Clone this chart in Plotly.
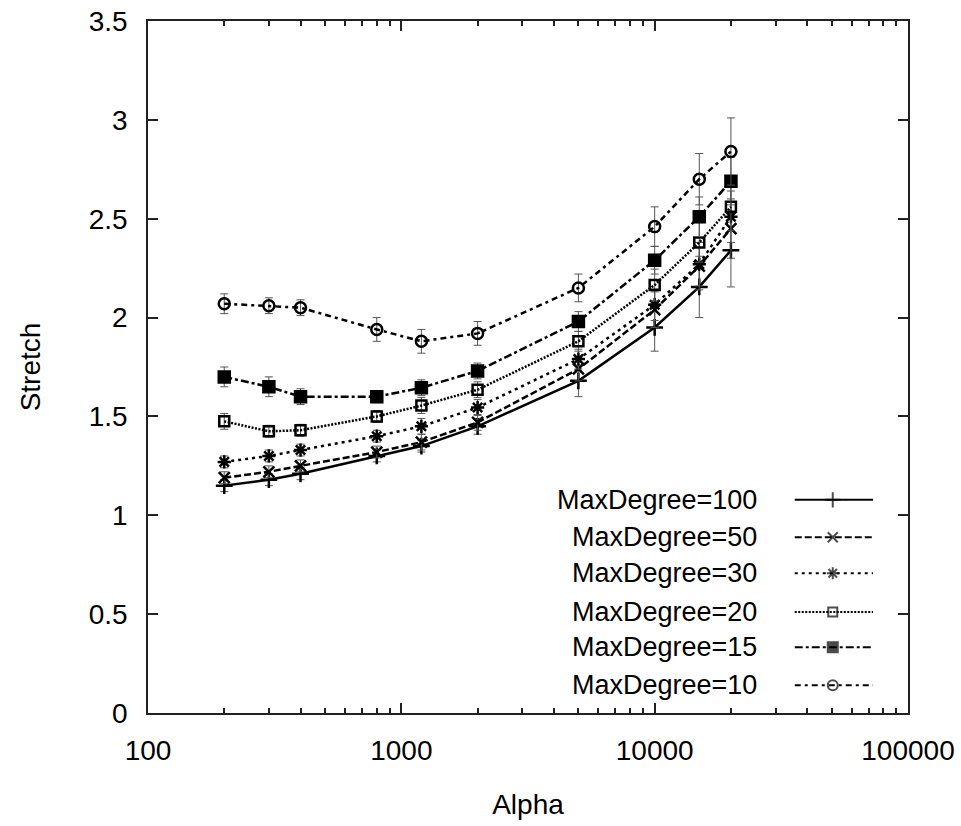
import plotly.graph_objects as go

alpha = [200, 300, 400, 800, 1200, 2000, 5000, 10000, 15000, 20000]

labels = ["MaxDegree=100", "MaxDegree=50", "MaxDegree=30",
          "MaxDegree=20", "MaxDegree=15", "MaxDegree=10"]

md100 = [1.15, 1.18, 1.21, 1.30, 1.35, 1.45, 1.68, 1.95, 2.155, 2.34]
md50 = [1.19, 1.22, 1.25, 1.32, 1.37, 1.47, 1.74, 2.04, 2.26, 2.45]
md30 = [1.27, 1.30, 1.33, 1.40, 1.45, 1.545, 1.79, 2.065, 2.27, 2.51]
md20 = [1.475, 1.425, 1.43, 1.50, 1.555, 1.635, 1.88, 2.165, 2.38, 2.56]
md15 = [1.70, 1.65, 1.60, 1.60, 1.645, 1.73, 1.98, 2.29, 2.51, 2.69]
md10 = [2.07, 2.06, 2.05, 1.94, 1.88, 1.92, 2.15, 2.46, 2.70, 2.84]

err100 = [0.03, 0.03, 0.03, 0.03, 0.03, 0.04, 0.08, 0.12, 0.155, 0.185]
err50 = [0.03, 0.03, 0.03, 0.03, 0.04, 0.04, 0.06, 0.09, 0.12, 0.15]
err30 = [0.03, 0.03, 0.03, 0.03, 0.04, 0.04, 0.05, 0.08, 0.11, 0.13]
err20 = [0.04, 0.03, 0.03, 0.03, 0.04, 0.04, 0.05, 0.08, 0.10, 0.12]
err15 = [0.05, 0.05, 0.04, 0.03, 0.04, 0.04, 0.05, 0.07, 0.10, 0.12]
err10 = [0.05, 0.04, 0.04, 0.06, 0.06, 0.06, 0.07, 0.10, 0.13, 0.17]

values = [md100, md50, md30, md20, md15, md10]
errors = [err100, err50, err30, err20, err15, err10]

x_tick_vals = [100, 1000, 10000, 100000]
x_tick_text = ["100", "1000", "10000", "100000"]
y_tick_vals = [0, 0.5, 1, 1.5, 2, 2.5, 3, 3.5]

dashes = ["solid", "7px,3px", "3px,4px", "2px,1.5px", "8px,3px,3px,3px", "6px,4px,3px,4px"]
symbols = ["cross-thin-open", "x-thin-open", "asterisk-open", "square-open", "square", "circle-open"]
msizes = [12, 11, 11, 10, 11, 11]
widths = [2.5, 2.5, 2.5, 2.5, 2.5, 2.5]

FONT = "Liberation Sans, Arial, Helvetica, sans-serif"
FS = 28
LFS = 27

fig = go.Figure()

for i in range(6):
    fig.add_trace(go.Scatter(
        x=alpha, y=values[i], mode="lines+markers", name=labels[i],
        line=dict(color="black", width=widths[i], dash=dashes[i]),
        marker=dict(symbol=symbols[i], size=msizes[i], color="black",
                    line=dict(color="black", width=2.5)),
        error_y=dict(type="data", array=errors[i], color="#555555",
                     thickness=1, width=4),
        showlegend=False,
    ))

# manual legend (text left, sample right), in a hidden overlay axis spanning the plot area
legend_rows = [0.308, 0.254, 0.202, 0.146, 0.095, 0.040]
for i in range(6):
    fig.add_trace(go.Scatter(
        x=[0.851, 0.901, 0.954], y=[legend_rows[i]] * 3,
        xaxis="x2", yaxis="y2", mode="lines+markers",
        line=dict(color="black", width=2, dash=dashes[i]),
        marker=dict(symbol=[symbols[i] if k == 1 else "circle" for k in range(3)],
                    size=[msizes[i] - 1 if k == 1 else 0 for k in range(3)],
                    color="black", line=dict(color="black", width=2)),
        showlegend=False, hoverinfo="skip",
    ))
    fig.add_annotation(
        xref="x2", yref="y2", x=0.804, y=legend_rows[i], text=labels[i],
        xanchor="right", yanchor="middle", showarrow=False,
        font=dict(family=FONT, size=LFS, color="black"),
    )

fig.update_layout(
    width=961, height=826,
    margin=dict(l=148, r=53, t=21, b=113, autoexpand=False),
    paper_bgcolor="white", plot_bgcolor="white",
    font=dict(family=FONT, size=FS, color="black"),
    xaxis=dict(
        type="log", range=[2, 5], tickvals=x_tick_vals, ticktext=x_tick_text,
        ticks="inside", ticklen=10, tickwidth=1.5, tickcolor="#222",
        showline=True, linecolor="#222", linewidth=1.5, mirror="ticks",
        showgrid=False, zeroline=False, automargin=False,
        minor=dict(ticks="inside", ticklen=5, dtick="D1", tickcolor="#222",
                   tickwidth=1.5, showgrid=False),
        ticklabelstandoff=12, ticklabeloverflow="allow",
        title=dict(text="Alpha", font=dict(size=FS), standoff=29),
        tickfont=dict(size=FS),
    ),
    yaxis=dict(
        range=[0, 3.5], tickvals=y_tick_vals,
        ticks="inside", ticklen=10, tickwidth=1.5, tickcolor="#222",
        showline=True, linecolor="#222", linewidth=1.5, mirror="ticks",
        showgrid=False, zeroline=False, automargin=False,
        ticklabelstandoff=13, ticklabeloverflow="allow",
        title=dict(text="Stretch", font=dict(size=FS), standoff=40),
        tickfont=dict(size=FS),
    ),
    xaxis2=dict(overlaying="x", range=[0, 1], visible=False, fixedrange=True),
    yaxis2=dict(overlaying="y", range=[0, 1], visible=False, fixedrange=True),
)

fig.write_html("out.html", config={"displayModeBar": False},
               post_script="document.body.style.margin='0px';")
